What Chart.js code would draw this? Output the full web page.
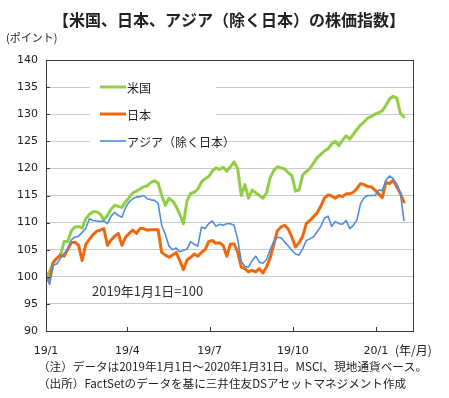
<!DOCTYPE html>
<html lang="ja">

<head>
    <title>米国、日本、アジア（除く日本）の株価指数</title>
    <meta charset="utf-8" />
    <script src="https://cdn.jsdelivr.net/npm/chart.js"></script>
    <style>
        body { margin: 0; background: #fff; }
        #wrap { width: 449px; height: 398px; }
    </style>
</head>

<body>
    <div id="wrap">
        <canvas id="miGrafico" width="449" height="398"></canvas>
    </div>

    <script>
        // días desde 2019/1/1 (cada 4 días)
        const dias = [0, 4, 8, 12, 16, 20, 24, 28, 32, 36,
            40, 44, 48, 52, 56, 60, 64, 68, 72, 76,
            80, 84, 88, 92, 96, 100, 104, 108, 112, 116,
            120, 124, 128, 132, 136, 140, 144, 148, 152, 156,
            160, 164, 168, 172, 176, 180, 184, 188, 192, 196,
            200, 204, 208, 212, 216, 220, 224, 228, 232, 236,
            240, 244, 248, 252, 256, 260, 264, 268, 272, 276,
            280, 284, 288, 292, 296, 300, 304, 308, 312, 316,
            320, 324, 328, 332, 336, 340, 344, 348, 352, 356,
            360, 364, 368, 372, 376, 380, 384, 388, 392, 396];

        const usa = [100, 101, 102.6, 103.4, 104, 106.5, 106.5, 108.5, 109.2, 109.3,
            109, 110.7, 111.5, 112, 112, 111.6, 110.5, 111.3, 112.5, 113.2,
            113, 112.8, 113.8, 114.6, 115.5, 115.8, 116.2, 116.6, 116.8, 117.4,
            117.7, 117.3, 115, 113.2, 114.5, 114, 113, 111.5, 109.8, 114,
            115.4, 115.6, 116.2, 117.5, 118.1, 118.5, 119.5, 120.1, 119.8, 120.2,
            119.5, 120.3, 121.2, 120, 115, 117, 114.5, 116, 115.5, 115,
            114.5, 115.5, 118.3, 119.6, 120.3, 120.1, 119.9, 119.2, 118.7, 115.8,
            116, 118.8, 119.4, 120, 121, 122, 122.6, 123.2, 123.6, 124.5,
            125, 124.2, 125.2, 126, 125.4, 126.3, 127.2, 128, 128.6, 129.3,
            129.6, 130, 130.3, 130.6, 131.6, 132.8, 133.3, 133, 130.2, 129.5];

        const japon = [100, 99.5, 102.7, 103.4, 104, 103.8, 105, 106.3, 106.4, 105.8,
            103, 106, 106.9, 107.8, 108.4, 108.6, 108.9, 105.8, 106.8, 107.5,
            108, 105.8, 107.3, 108, 108.6, 108, 108.9, 108.9, 108.6, 108.7,
            108.7, 108.7, 104.5, 104, 103.6, 104, 104.5, 103, 101.3, 103.1,
            103.6, 104.2, 103.8, 104.5, 105, 106.5, 106.7, 106.2, 106.3, 105.8,
            103.8, 106, 106.1, 104.6, 101.8, 101.5, 100.9, 101.2, 100.9, 101.5,
            100.7, 101.8, 103.5, 106, 108.5, 109.2, 109.5, 108.8, 107.3, 105.5,
            106.3, 107.5, 109.8, 110.4, 111.1, 111.8, 113, 114.5, 115.1, 114.9,
            114.5, 115, 114.8, 115.3, 115.3, 115.6, 116.3, 117.2, 117, 116.6,
            116.6, 116, 115.3, 114.6, 117.4, 117.2, 117.8, 116.6, 115.4, 113.8];

        const asia = [100, 98.6, 102.1, 102.4, 103.4, 104.3, 105.2, 106.8, 107.3, 107.5,
            108.2, 108.9, 110.7, 110.4, 110.3, 110.2, 110.3, 109.8, 111.2, 111.9,
            111.3, 111, 112.8, 113.8, 114.4, 114.7, 114.8, 115, 114.4, 114.2,
            114.1, 113.6, 109.5, 107.8, 105.7, 105, 105.3, 104.6, 104.9, 105.1,
            106.5, 106, 105.7, 109.2, 108.9, 109.8, 110.3, 109.3, 109.7, 109.5,
            109.8, 109.8, 109.5, 107, 102.9, 101.9, 101.8, 103, 103.8, 102.7,
            102.5, 103.2, 105, 106.5, 107.3, 107.2, 106.4, 105.7, 104.9, 104.2,
            104, 105.2, 106.7, 107, 107.4, 108.3, 109.3, 110.8, 111.2, 109.3,
            110.2, 109.8, 109.7, 110.4, 108.9, 109.5, 110.5, 113.5, 114.6, 115,
            115, 115, 116, 115.9, 117.8, 118.6, 118.1, 117.1, 115.5, 110.4];

        const series = ['米国', '日本', 'アジア（除く日本）'];
        const ticksX = [0, 90, 181, 273, 365];
        const etiquetasX = ['19/1', '19/4', '19/7', '19/10', '20/1'];

        const fuenteJP = "'Noto Sans CJK JP', sans-serif";
        const fuenteNum = "'DejaVu Sans', 'Noto Sans CJK JP', sans-serif";

        function puntos(valores) {
            return dias.map((d, i) => ({ x: d, y: valores[i] }));
        }

        // textos, marco, marcas y leyenda
        const extras = {
            id: 'extras',
            beforeDatasetsDraw(chart) {
                const { ctx } = chart;
                // caja de leyenda (tapa la cuadrícula)
                ctx.save();
                ctx.fillStyle = '#fff';
                ctx.fillRect(90, 76, 126, 76);
                const filas = [87, 114, 141];
                chart.data.datasets.forEach((ds, i) => {
                    ctx.strokeStyle = ds.borderColor;
                    ctx.lineWidth = ds.borderWidth;
                    ctx.beginPath();
                    ctx.moveTo(100, filas[i]);
                    ctx.lineTo(126, filas[i]);
                    ctx.stroke();
                    ctx.fillStyle = '#222';
                    ctx.font = '12px ' + fuenteJP;
                    ctx.textBaseline = 'middle';
                    ctx.fillText(ds.label, 127, filas[i] + 1);
                });
                ctx.restore();
            },
            afterDraw(chart) {
                const { ctx, chartArea: a, scales } = chart;
                ctx.save();
                // marco
                ctx.strokeStyle = '#3a3a3a';
                ctx.lineWidth = 1;
                ctx.strokeRect(a.left + 0.5, a.top + 0.5, a.right - a.left, a.bottom - a.top);
                // marcas hacia dentro
                ctx.beginPath();
                scales.y.ticks.forEach(t => {
                    const y = Math.round(scales.y.getPixelForValue(t.value)) + 0.5;
                    ctx.moveTo(a.left, y);
                    ctx.lineTo(a.left + 4, y);
                });
                ticksX.slice(1).forEach(v => {
                    const x = Math.round(scales.x.getPixelForValue(v)) + 0.5;
                    ctx.moveTo(x, a.bottom);
                    ctx.lineTo(x, a.bottom - 4);
                });
                ctx.stroke();

                ctx.fillStyle = '#222';
                ctx.textBaseline = 'middle';
                ctx.textAlign = 'center';
                ctx.font = 'bold 16px ' + fuenteJP;
                ctx.fillText('【米国、日本、アジア（除く日本）の株価指数】', 229, 20);
                ctx.textAlign = 'left';
                ctx.font = '11px ' + fuenteJP;
                ctx.fillText('(ポイント)', 6, 38);
                ctx.font = '13px ' + fuenteJP;
                ctx.fillStyle = '#333';
                ctx.fillText('2019年1月1日=100', 92, 291);
                ctx.fillStyle = '#222';
                ctx.font = '12px ' + fuenteJP;
                ctx.fillText('(年/月)', 395, 350);
                ctx.font = '11.6px ' + fuenteJP;
                ctx.fillText('（注）データは2019年1月1日～2020年1月31日。MSCI、現地通貨ベース。', 38, 367);
                ctx.fillText('（出所）FactSetのデータを基に三井住友DSアセットマネジメント作成', 38, 384);
                ctx.restore();
            }
        };

        const ctx = document.querySelector('#miGrafico').getContext('2d');
        const miGrafico = new Chart(ctx, {
            type: 'line',
            data: {
                datasets: [{
                    label: series[0],
                    data: puntos(usa),
                    borderColor: '#8fce45',
                    borderWidth: 3,
                    order: 2
                }, {
                    label: series[1],
                    data: puntos(japon),
                    borderColor: '#f0680c',
                    borderWidth: 3,
                    order: 1
                }, {
                    label: series[2],
                    data: puntos(asia),
                    borderColor: '#4f8ddb',
                    borderWidth: 1.6,
                    order: 0
                }]
            },
            options: {
                responsive: false,
                animation: false,
                layout: { padding: { top: 60, right: 36, left: 0, bottom: 0 } },
                elements: {
                    point: { radius: 0 },
                    line: { tension: 0, borderJoinStyle: 'round', borderCapStyle: 'round' }
                },
                plugins: {
                    legend: { display: false },
                    tooltip: { enabled: false }
                },
                scales: {
                    x: {
                        type: 'linear',
                        min: 0,
                        max: 406,
                        grid: { display: false },
                        border: { display: false },
                        afterFit: s => { s.height = 67; },
                        afterBuildTicks: s => { s.ticks = ticksX.map(v => ({ value: v })); },
                        ticks: {
                            padding: 6,
                            maxRotation: 0,
                            autoSkip: false,
                            color: '#222',
                            font: { family: fuenteNum, size: 11 },
                            callback: v => etiquetasX[ticksX.indexOf(v)]
                        }
                    },
                    y: {
                        min: 90,
                        max: 140,
                        grid: { color: '#c9c9c9', drawTicks: false },
                        border: { display: false },
                        afterFit: s => { s.width = 46; },
                        ticks: {
                            stepSize: 5,
                            padding: 8,
                            color: '#222',
                            font: { family: fuenteNum, size: 11 }
                        }
                    }
                }
            },
            plugins: [extras]
        });
    </script>
</body>

</html>
